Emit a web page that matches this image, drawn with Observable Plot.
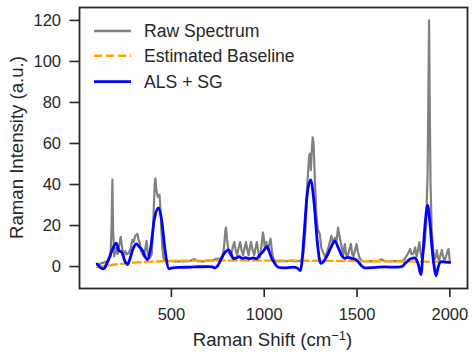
<!DOCTYPE html>
<html><head><meta charset="utf-8">
<script src="https://cdn.jsdelivr.net/npm/d3@7"></script>
<script src="https://cdn.jsdelivr.net/npm/@observablehq/plot@0.6"></script>
<style>html,body{margin:0;padding:0;background:#fff}svg{display:block}</style>
</head><body><div id="chart"></div>
<script>
// Raw spectrum (Raman shift, intensity)
const rawShift = [100,115,130,145,160,172,178,182,186,192,200,210,220,227,235,243,252,259,270,281,290,297,305,317,323,329,335,341,351,358,366,373,383,394,400,405,410,414,418,422,427,431,436,441,446,452,458,465,480,500,520,550,580,600,623,640,670,700,720,740,760,775,784,790,794,800,808,816,825,832,839,846,854,862,870,878,886,894,902,909,916,922,929,937,946,953,960,968,976,985,993,998,1003,1007,1011,1016,1021,1027,1034,1041,1048,1056,1065,1090,1120,1150,1170,1190,1200,1211,1222,1232,1242,1246,1251,1256,1261,1266,1273,1281,1289,1299,1308,1317,1326,1335,1348,1362,1371,1380,1389,1398,1407,1416,1425,1434,1441,1449,1458,1467,1474,1481,1489,1497,1505,1514,1530,1560,1590,1610,1633,1650,1680,1710,1740,1755,1768,1778,1786,1793,1800,1806,1813,1818,1822,1830,1836,1842,1849,1856,1864,1872,1880,1884,1888,1892,1896,1902,1910,1918,1925,1930,1935,1941,1948,1957,1964,1971,1980,1987,1993,1997,2000];
const rawIntensity = [1.0,1.2,1.8,2.2,2.8,5,20,42.5,18,5,9,6,11,14.5,9,5,7.5,6,6.5,9,13,12,15,16,13,12,8,6.5,5,8,12.5,6,4,6,15,28,40,43,38,36,34,34.5,35,28,18,8,4,2.8,2.5,2.7,2.4,2.6,2.5,2.7,3.7,2.6,2.5,3.0,2.7,3.8,3.8,4,10,17,19,13,7,5.5,7,10,11.9,8,5.5,9,11.9,8,5.5,9,11.9,8,5.5,9,11.9,8,5.5,9,11.9,7,4.5,10,16.7,14,9,11,12,9,8,11,13.6,8,4,3,2.5,2.8,2.6,2.9,2.5,2.8,3,6,18,40,54,55,47,56,63,60,42,25,18,16,9,7,5,6,10,15,11,14,12,19,14,10,5.5,11,6,5,8,11,6,5,8,11,7,4,2.6,2.5,2.7,2.6,3.5,2.6,2.5,2.7,2.6,3.5,5.4,7,8.6,6,6,7,9.4,6,5,9,11.9,7,4,6,11,20,45,80,120,75,40,18,8,3.5,5,8,5,3,5,8,5,3,5,7.5,8.5,5,2];

// Estimated baseline
const baseShift = [100,150,200,250,300,350,400,450,500,550,700,1000,1300,1600,1900,2000];
const baseIntensity = [-0.4,0.4,1.0,1.5,1.9,2.2,2.4,2.6,2.75,2.85,2.9,2.9,2.8,2.6,2.35,2.25];

// ALS + SG corrected / smoothed
const alsShift = [100,118,136,150,163,185,203,212,217,232,248,263,276,290,311,328,344,360,371,389,407,431,448,466,488,505,550,600,650,700,720,737,750,777,795,809,822,834,850,866,880,900,920,940,958,975,995,1016,1030,1038,1055,1074,1100,1130,1160,1180,1196,1205,1215,1232,1250,1269,1287,1304,1320,1340,1360,1380,1400,1420,1434,1450,1470,1490,1505,1525,1542,1600,1650,1700,1741,1760,1786,1813,1830,1844,1856,1868,1880,1892,1905,1918,1926,1935,1950,1975,2000];
const alsIntensity = [1.3,-0.5,-1.1,1,3.7,9,11.4,9,7.8,7,3,1,3.5,7.8,11,9.5,7.8,4.5,3.3,9.4,22.4,28.6,22.4,7.8,-1.1,-0.6,-0.4,-0.3,-0.1,0,-0.2,-0.6,0.5,5.4,7.5,8.1,6,3.8,4.2,4.8,4,4.3,3.8,4.2,3.8,5.5,7.5,9.7,6.5,4.5,1.8,-0.3,-0.6,-0.5,-0.3,-0.9,-2,4,16,35.6,42.3,30.7,11,1.6,2.5,5.5,9.5,12.4,9,5,4,4.5,4,3.6,2.5,0.3,-0.6,-0.4,-0.2,-0.3,0,1.6,3.7,4.2,1,-3.9,8,22,29.8,22,8,-1.5,-4.4,-1,2.4,2.2,2];

const xTicks = [500,1000,1500,2000];
const yTicks = [0,20,40,60,80,100,120];
const legendLabels = ["Raw Spectrum","Estimated Baseline","ALS + SG"];
const legendColors = ["#808080","#FFA500","#0000FF"];

const raw = rawShift.map((x,i)=>({x, y: rawIntensity[i]}));
const base = baseShift.map((x,i)=>({x, y: baseIntensity[i]}));
const als = alsShift.map((x,i)=>({x, y: alsIntensity[i]}));

const ink = "#262626";
const chart = Plot.plot({
  width: 476, height: 359,
  marginLeft: 79, marginRight: 9, marginTop: 7, marginBottom: 71,
  style: {fontFamily: "'Liberation Sans', Arial, sans-serif", fontSize: "16.5px", color: ink, background: "#fff"},
  x: {domain: [5, 2095]},
  y: {domain: [-10.7, 126.3]},
  marks: [
    Plot.line(raw, {x: "x", y: "y", stroke: legendColors[0], strokeWidth: 2.2}),
    Plot.line(base, {x: "x", y: "y", stroke: legendColors[1], strokeWidth: 2.4, strokeDasharray: "8,4", curve: "monotone-x"}),
    Plot.line(als, {x: "x", y: "y", stroke: legendColors[2], strokeWidth: 2.8, curve: "monotone-x"}),
    Plot.frame({stroke: ink, strokeWidth: 1.8}),
    Plot.axisX({ticks: xTicks, tickSize: 9, tickPadding: 11, label: null, strokeWidth: 1.6, tickFormat: d => String(d)}),
    Plot.axisY({ticks: yTicks, tickSize: 9.5, tickPadding: 9, label: null, strokeWidth: 1.6, tickFormat: d => String(d)})
  ]
});
document.getElementById("chart").appendChild(chart);

const svg = d3.select(chart);
const ff = "'Liberation Sans', Arial, sans-serif";
// x label
const xl = svg.append("text").attr("x", 272.5).attr("y", 346).attr("text-anchor", "middle")
  .attr("font-family", ff).attr("font-size", 18.6).attr("fill", ink);
xl.append("tspan").text("Raman Shift (cm");
xl.append("tspan").attr("dy", "-0.45em").attr("font-size", 13).text("\u22121");
xl.append("tspan").attr("dy", "0.32em").text(")");
// y label
svg.append("text").attr("transform", "translate(23.3,147.5) rotate(-90)").attr("text-anchor", "middle")
  .attr("font-family", ff).attr("font-size", 18.6).attr("fill", ink).text("Raman Intensity (a.u.)");
// legend
const lg = svg.append("g");
const rowsY = [31, 55.7, 81.7];
legendLabels.forEach((lab, i) => {
  const ln = lg.append("line").attr("x1", 94).attr("x2", 131).attr("y1", rowsY[i]).attr("y2", rowsY[i])
    .attr("stroke", legendColors[i]).attr("stroke-width", i === 2 ? 2.8 : 2.4);
  if (i === 1) ln.attr("stroke-dasharray", "8,4");
  lg.append("text").attr("x", 144).attr("y", rowsY[i] + 6.3).attr("text-anchor", "start").attr("font-family", ff)
    .attr("font-size", 17.6).attr("fill", ink).text(lab);
});
</script>
</body></html>
